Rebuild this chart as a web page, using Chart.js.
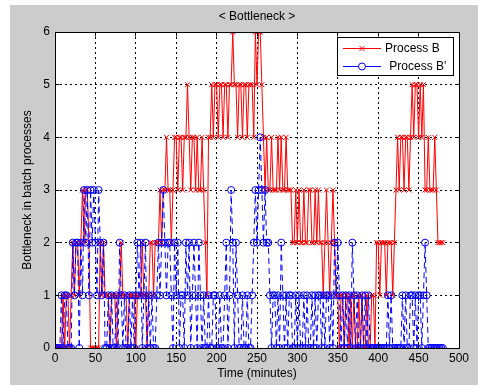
<!DOCTYPE html>
<html>
<head>
<meta charset="utf-8">
<script src="https://cdn.jsdelivr.net/npm/chart.js"></script>
<style>
  html, body { margin: 0; padding: 0; background: #fff; }
  canvas { display: block; }
</style>
</head>
<body>
<canvas id="bottleneck" width="478" height="385"></canvas>
<script>
// samples every 2 minutes, starting at t = 0
const START_MIN = 0;
const STEP_MIN = 2;

const processB = [
  0,0,0,0,0,                               // 0-8
  1,0,1,1,0,                               // 10-18
  1,2,1,2,2,1,                             // 20-30
  2,3,2,3,3,2,                             // 32-42
  0,0,0,0,0,0,                             // 44-54
  2,1,2,1,                                 // 56-62
  1,1,0,1,1,1,0,1,1,                       // 64-80
  2,1,1,1,0,1,1,1,1,0,                     // 82-100
  1,1,1,2,1,1,0,1,                         // 102-116
  2,2,1,2,2,2,                             // 118-128
  3,2,3,3,4,3,3,2,3,                       // 130-146
  4,4,3,4,4,3,4,4,5,4,                     // 148-166
  3,4,4,3,4,3,3,4,3,                       // 168-184
  2,1,                                     // 186-188
  4,4,5,4,5,                               // 190-198
  5,4,5,5,4,5,5,4,5,                       // 200-216
  5,6,5,                                   // 218-222
  5,4,5,5,4,5,5,4,5,5,5,4,                 // 224-246
  6,5,6,6,                                 // 248-254
  5,4,                                     // 256-258
  3,4,3,3,4,3,3,3,4,3,4,3,3,4,3,3,3,2,     // 260-294
  2,3,2,3,2,2,3,2,2,3,3,2,2,3,             // 296-322
  2,3,2,2,1,2,3,2,1,2,3,2,                 // 324-346
  1,1,0,1,1,0,1,1,0,1,                     // 348-366
  0,1,0,0,1,0,1,0,0,1,0,0,1,1,0,           // 368-396
  2,2,1,2,2,2,1,2,2,2,1,2,                 // 398-420
  3,4,3,4,4,3,4,4,3,4,                     // 422-440
  5,4,5,5,4,5,4,5,                         // 442-456
  3,3,4,3,3,3,4,3,                         // 458-472
  2,2,2,2                                  // 474-480
];

const processBPrime = [
  0,0,0,                                   // 0-4
  0,1,0,1,1,0,                             // 6-16
  0,0,                                     // 18-20
  2,1,2,2,0,2,1,                           // 22-34
  3,2,3,1,3,2,3,2,1,3,                     // 36-54
  2,1,2,0,                                 // 56-62
  0,1,0,1,0,0,1,0,2,                       // 64-80
  1,0,1,0,0,1,0,1,0,1,                     // 82-100
  2,1,2,0,1,2,0,                           // 102-114
  1,0,1,0,0,1,                             // 116-126
  2,1,2,3,2,1,2,2,1,0,2,1,2,               // 128-152
  0,1,1,0,                                 // 154-160
  2,1,2,0,1,2,1,0,2,1,                     // 162-180
  0,1,0,0,1,0,0,1,1,0,0,1,0,0,1,           // 182-210
  2,0,1,3,2,0,2,                           // 212-224
  1,0,0,1,0,0,1,0,0,1,                     // 226-244
  2,3,2,3,4,3,2,3,2,2,                     // 246-264
  1,0,1,1,0,1,0,2,1,0,1,0,1,1,0,0,1,       // 266-298
  0,1,0,0,1,0,1,0,0,1,0,                   // 300-320
  1,0,1,1,0,1,0,1,1,0,1,0,                 // 322-344
  2,1,2,1,                                 // 346-352
  0,1,0,1,0,1,0,                           // 354-366
  2,1,                                     // 368-370
  0,1,0,0,1,0,1,0,1,                       // 372-388
  0,0,0,0,0,0,0,0,0,0,0,                   // 390-410
  1,0,1,                                   // 412-416
  0,0,0,0,0,0,                             // 418-428
  1,0,1,0,0,1,1,0,1,0,1,1,0,1,             // 430-456
  2,1,0,                                   // 458-462
  0,0,0,0,0,0,0,0,0                        // 464-480
];

const xTicks = [0, 50, 100, 150, 200, 250, 300, 350, 400, 450, 500];
const yTicks = [0, 1, 2, 3, 4, 5, 6];

const FONT = "'Liberation Sans', Arial, sans-serif";

function toPoints(values) {
  return values.map((v, i) => ({ x: START_MIN + i * STEP_MIN, y: v }));
}

function align(px) {
  return Math.round(px - 0.5) + 0.5;
}

// matlab style figure: grey frame, boxed axes, inward ticks, title and legend
const matlabFrame = {
  id: 'matlabFrame',
  beforeDraw(chart) {
    const { ctx, width, height, chartArea: a } = chart;
    ctx.save();
    ctx.fillStyle = '#ffffff';
    ctx.fillRect(0, 0, width, height);
    ctx.fillStyle = '#cccccc';
    ctx.fillRect(10, 5, width - 10, height - 5);
    ctx.fillStyle = '#ffffff';
    ctx.fillRect(a.left, a.top, a.right - a.left, a.bottom - a.top);
    ctx.restore();
  },
  afterDraw(chart) {
    const { ctx, chartArea: a, scales } = chart;
    const L = align(a.left), R = align(a.right), T = align(a.top), B = align(a.bottom);
    ctx.save();
    ctx.strokeStyle = '#000';
    ctx.lineWidth = 1;
    ctx.setLineDash([]);
    ctx.beginPath();
    xTicks.forEach(v => {
      const px = align(scales.x.getPixelForValue(v));
      ctx.moveTo(px, T); ctx.lineTo(px, T + 4);
      ctx.moveTo(px, B); ctx.lineTo(px, B - 4);
    });
    yTicks.forEach(v => {
      const py = align(scales.y.getPixelForValue(v));
      ctx.moveTo(L, py); ctx.lineTo(L + 4, py);
      ctx.moveTo(R, py); ctx.lineTo(R - 4, py);
    });
    ctx.stroke();
    ctx.strokeRect(L, T, R - L, B - T);

    // title
    ctx.fillStyle = '#000';
    ctx.font = '12px ' + FONT;
    ctx.textAlign = 'center';
    ctx.textBaseline = 'middle';
    ctx.fillText('< Bottleneck >', (a.left + a.right) / 2, 17);

    // legend
    const bx = 337.5, by = 37.5, bw = 116, bh = 38;
    ctx.fillStyle = '#fff';
    ctx.fillRect(bx, by, bw, bh);
    ctx.strokeRect(bx, by, bw, bh);

    ctx.strokeStyle = '#ff0000';
    ctx.beginPath();
    ctx.moveTo(343, 48.5); ctx.lineTo(381, 48.5);
    const d = 2.5;
    ctx.moveTo(362 - d, 48.5 - d); ctx.lineTo(362 + d, 48.5 + d);
    ctx.moveTo(362 - d, 48.5 + d); ctx.lineTo(362 + d, 48.5 - d);
    ctx.stroke();

    ctx.strokeStyle = '#0000ff';
    ctx.beginPath();
    ctx.moveTo(343, 66.5); ctx.lineTo(358.5, 66.5);
    ctx.moveTo(365.5, 66.5); ctx.lineTo(381, 66.5);
    ctx.stroke();
    ctx.beginPath();
    ctx.arc(362, 66.5, 3.5, 0, Math.PI * 2);
    ctx.stroke();

    ctx.fillStyle = '#000';
    ctx.textAlign = 'left';
    ctx.fillText('Process B', 385, 48.5);
    ctx.fillText(" Process B'", 386, 66.5);
    ctx.restore();
  }
};

const ctx = document.getElementById('bottleneck').getContext('2d');

new Chart(ctx, {
  type: 'line',
  data: {
    datasets: [
      {
        label: 'Process B',
        data: toPoints(processB),
        borderColor: '#ff0000',
        borderWidth: 1,
        pointStyle: 'crossRot',
        pointRadius: 3.5,
        pointBorderColor: '#ff0000',
        pointBackgroundColor: '#ff0000',
        pointBorderWidth: 1,
        fill: false,
        tension: 0,
        order: 2
      },
      {
        label: "Process B'",
        data: toPoints(processBPrime),
        borderColor: '#0000ff',
        borderWidth: 1,
        borderDash: [6, 4],
        pointStyle: 'circle',
        pointRadius: 3.5,
        pointBorderColor: '#0000ff',
        pointBackgroundColor: 'rgba(0,0,0,0)',
        pointBorderWidth: 1,
        fill: false,
        tension: 0,
        order: 1
      }
    ]
  },
  options: {
    responsive: false,
    animation: false,
    devicePixelRatio: 1,
    events: [],
    layout: {
      padding: { left: 10, right: 19, top: 32, bottom: 0 }
    },
    scales: {
      x: {
        type: 'linear',
        min: 0,
        max: 500,
        afterBuildTicks: s => { s.ticks = xTicks.map(v => ({ value: v })); },
        afterFit: s => { s.height = 37; },
        grid: { color: '#000', lineWidth: 1, drawTicks: false },
        border: { display: false, dash: [2, 3] },
        ticks: {
          color: '#000',
          padding: 3,
          maxRotation: 0,
          autoSkip: false,
          font: { family: FONT, size: 12 }
        },
        title: {
          display: true,
          text: 'Time (minutes)',
          color: '#000',
          padding: { top: 0, bottom: 4 },
          font: { family: FONT, size: 12 }
        }
      },
      y: {
        type: 'linear',
        min: 0,
        max: 6,
        afterBuildTicks: s => { s.ticks = yTicks.map(v => ({ value: v })); },
        afterFit: s => { s.width = 45; },
        grid: { color: '#000', lineWidth: 1, drawTicks: false },
        border: { display: false, dash: [2, 3] },
        ticks: {
          color: '#000',
          padding: 5,
          font: { family: FONT, size: 12 }
        },
        title: {
          display: true,
          text: 'Bottleneck in batch processes',
          color: '#000',
          padding: { top: 10, bottom: 0 },
          font: { family: FONT, size: 12 }
        }
      }
    },
    plugins: {
      legend: { display: false },
      title: { display: false },
      tooltip: { enabled: false }
    }
  },
  plugins: [matlabFrame]
});
</script>
</body>
</html>
